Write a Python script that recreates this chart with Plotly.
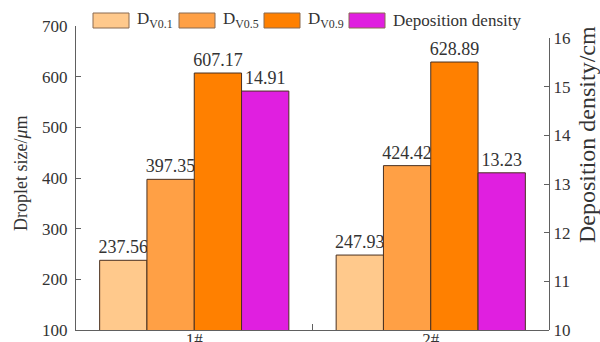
import plotly.graph_objects as go

# Data
categories = ["1#", "2#"]
dv01 = [237.56, 247.93]
dv05 = [397.35, 424.42]
dv09 = [607.17, 628.89]
deposition = [14.91, 13.23]

series_names = ["D<sub>V0.1</sub>", "D<sub>V0.5</sub>", "D<sub>V0.9</sub>", "Deposition density"]
colors = ["#FFC98C", "#FFA045", "#FF8000", "#E01FE0"]
edge = "#4a3020"
font_family = "Times New Roman, Liberation Serif, serif"
text_color = "#333333"
axis_color = "#606060"

W, H = 600, 342
ML, MR, MT, MB = 76, 51, 26, 12
PW, PH = W - ML - MR, H - MT - MB


def px_x(px):
    return (px - ML) / PW


def px_y(py):
    return (H - MB - py) / PH


fig = go.Figure()

bar_w = 0.2
offsets = [-0.4, -0.2, 0.0, 0.2]
values = [dv01, dv05, dv09, deposition]
for i, (vals, name, col) in enumerate(zip(values, series_names, colors)):
    fig.add_trace(go.Bar(
        x=categories, y=vals, name=name,
        width=bar_w, offset=offsets[i],
        marker=dict(color=col, line=dict(color=edge, width=1)),
        text=[f"{v:.2f}" for v in vals],
        textposition="outside",
        constraintext="none",
        cliponaxis=False,
        outsidetextfont=dict(family=font_family, size=18, color=text_color),
        yaxis="y2" if i == 3 else "y",
        showlegend=False,
    ))

# Legend drawn as boxes and labels along the top
legend_boxes = [(93, 129), (179, 215), (264, 300), (349, 385)]
legend_y0, legend_y1 = 13, 28
shapes = []
annotations = []
for (x0, x1), name, col in zip(legend_boxes, series_names, colors):
    shapes.append(dict(type="rect", xref="paper", yref="paper",
                       x0=px_x(x0), x1=px_x(x1), y0=px_y(legend_y1), y1=px_y(legend_y0),
                       fillcolor=col, line=dict(color="#8a6a50", width=1)))
    annotations.append(dict(text=name, xref="paper", yref="paper",
                            x=px_x(x1 + 6), y=px_y((legend_y0 + legend_y1) / 2),
                            xanchor="left", yanchor="middle", showarrow=False,
                            font=dict(family=font_family, size=17, color=text_color)))

# Axis titles
annotations.append(dict(text="Droplet size/<i>μ</i>m", xref="paper", yref="paper",
                        x=px_x(21), y=px_y(173), textangle=-90, showarrow=False,
                        xanchor="center", yanchor="middle",
                        font=dict(family=font_family, size=18, color=text_color)))
annotations.append(dict(text="Deposition density/cm", xref="paper", yref="paper",
                        x=px_x(587), y=px_y(135), textangle=-90, showarrow=False,
                        xanchor="center", yanchor="middle",
                        font=dict(family=font_family, size=24, color=text_color)))

tick_font = dict(family=font_family, size=17, color=text_color)

fig.update_layout(
    width=W, height=H,
    margin=dict(l=ML, r=MR, t=MT, b=MB, pad=0, autoexpand=False),
    font=dict(family=font_family, color=text_color),
    paper_bgcolor="white", plot_bgcolor="rgba(0,0,0,0)",
    showlegend=False,
    shapes=shapes, annotations=annotations,
    xaxis=dict(type="category", range=[-0.5, 1.5], showline=True, linecolor=axis_color,
               linewidth=1.3, ticks="inside", tickson="boundaries", ticklen=6,
               tickcolor=axis_color, tickfont=tick_font, showgrid=False, zeroline=False,
               ticklabelstandoff=-7, automargin=False),
    yaxis=dict(range=[100, 700], tickvals=[100, 200, 300, 400, 500, 600, 700],
               showline=True, linecolor=axis_color, linewidth=1.3, ticks="inside",
               ticklen=5, tickcolor=axis_color, tickfont=tick_font, showgrid=False,
               zeroline=False, anchor="x", automargin=False, ticklabelstandoff=4),
    yaxis2=dict(range=[10, 16], tickvals=[10, 11, 12, 13, 14, 15, 16],
                domain=[0, (H - MB - 38) / PH], side="right", anchor="x",
                showline=True, linecolor=axis_color, linewidth=1.3, ticks="inside",
                ticklen=5, tickcolor=axis_color, tickfont=tick_font, showgrid=False,
                zeroline=False, automargin=False),
)

fig.write_html("out.html")
